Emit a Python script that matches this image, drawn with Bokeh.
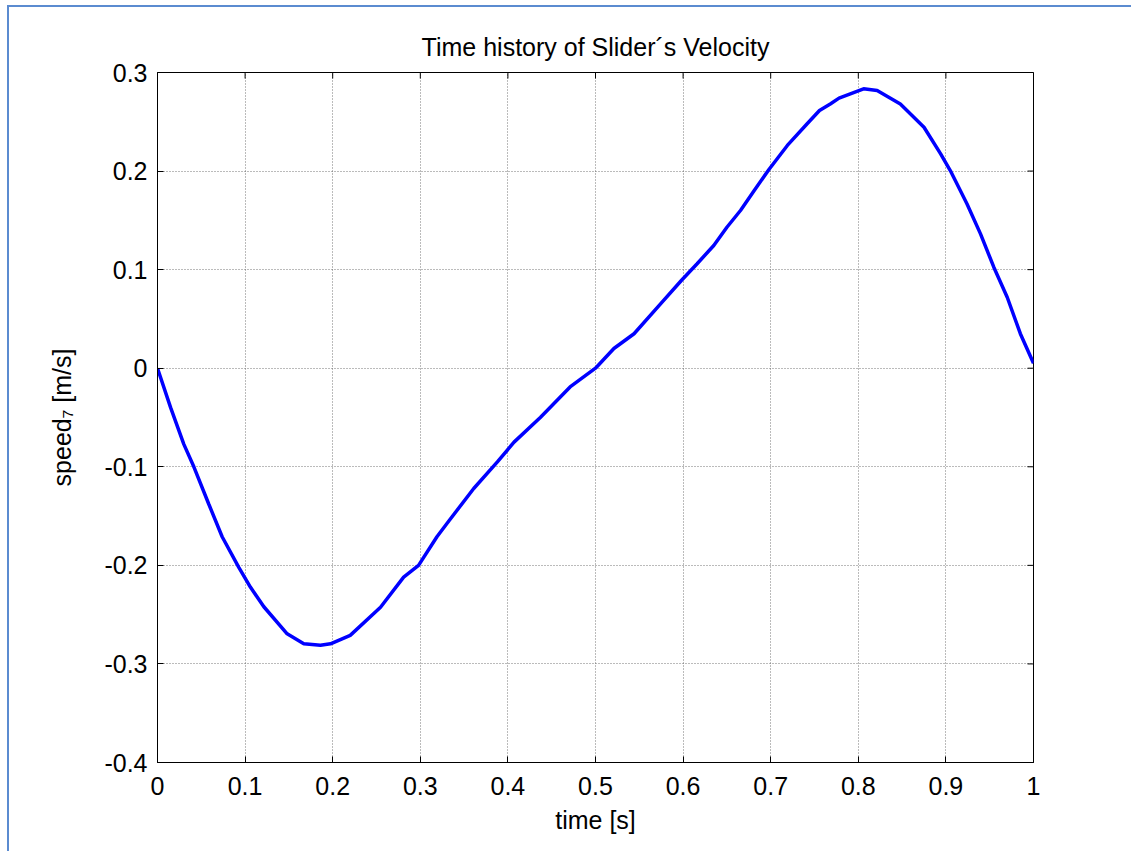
import math
from bokeh.plotting import figure
from bokeh.models import LinearAxis, FixedTicker, Range1d
from bokeh.embed import file_html
from bokeh.resources import INLINE

# ---- data ----
time_s = [0.0, 0.015, 0.030, 0.0415, 0.0586, 0.0738, 0.0928, 0.106, 0.1214, 0.148,
          0.167, 0.186, 0.1975, 0.220, 0.2546, 0.281, 0.298, 0.319, 0.333, 0.361,
          0.388, 0.407, 0.437, 0.471, 0.500, 0.521, 0.544, 0.574, 0.598, 0.616,
          0.635, 0.650, 0.6655, 0.681, 0.698, 0.719, 0.7416, 0.7557, 0.768, 0.778,
          0.806, 0.8215, 0.848, 0.875, 0.894, 0.905, 0.924, 0.9395, 0.9547, 0.970,
          0.985, 1.0]
speed7 = [0.0, -0.040, -0.077, -0.100, -0.138, -0.171, -0.202, -0.222, -0.242, -0.2695,
          -0.2796, -0.281, -0.2796, -0.271, -0.2425, -0.212, -0.200, -0.171, -0.1545, -0.122,
          -0.095, -0.075, -0.050, -0.019, 0.000, 0.020, 0.035, 0.065, 0.089, 0.106,
          0.1245, 0.143, 0.160, 0.180, 0.2016, 0.226, 0.248, 0.2614, 0.268, 0.274,
          0.2835, 0.2817, 0.268, 0.2445, 0.2175, 0.2005, 0.1668, 0.1363, 0.1025, 0.072,
          0.035, 0.005]

x_ticks = [0, 0.1, 0.2, 0.3, 0.4, 0.5, 0.6, 0.7, 0.8, 0.9, 1]
x_tick_labels = ["0", "0.1", "0.2", "0.3", "0.4", "0.5", "0.6", "0.7", "0.8", "0.9", "1"]
y_ticks = [-0.4, -0.3, -0.2, -0.1, 0, 0.1, 0.2, 0.3]
y_tick_labels = ["-0.4", "-0.3", "-0.2", "-0.1", "0", "0.1", "0.2", "0.3"]

title_text = "Time history of Slider\u00b4s Velocity"
x_label = "time [s]"
y_label = "speed\u2087 [m/s]"

X_MIN, X_MAX = 0, 1
Y_MIN, Y_MAX = -0.4, 0.3

FONT = "Liberation Sans"
FS = "25px"

p = figure(width=1124, height=846, output_backend="svg", toolbar_location=None,
           x_range=Range1d(X_MIN, X_MAX), y_range=Range1d(Y_MIN, Y_MAX),
           min_border_left=148, min_border_right=100, min_border_top=65,
           min_border_bottom=91, x_axis_location=None, y_axis_location=None)

p.styles = {"margin-left": "7px", "margin-top": "5px",
            "border-left": "2px solid #5B8BD0", "border-top": "2px solid #5B8BD0"}

p.background_fill_color = "white"
p.border_fill_color = "white"
p.outline_line_color = "black"
p.outline_line_width = 1

p.title.text = title_text
p.title.align = "center"
p.title.text_font = FONT
p.title.text_font_size = FS
p.title.text_font_style = "normal"
p.title.text_color = "black"
p.title.standoff = 24

xticker = FixedTicker(ticks=x_ticks)
yticker = FixedTicker(ticks=y_ticks)


def style_axis(ax):
    ax.axis_line_color = "black"
    ax.major_tick_line_color = "black"
    ax.major_tick_in = 6
    ax.major_tick_out = 0
    ax.minor_tick_line_color = None
    ax.major_label_text_font = FONT
    ax.major_label_text_font_size = FS
    ax.major_label_text_color = "black"
    ax.axis_label_text_font = FONT
    ax.axis_label_text_font_size = FS
    ax.axis_label_text_font_style = "normal"
    ax.axis_label_text_color = "black"


xb = LinearAxis(ticker=xticker, axis_label=x_label,
                major_label_overrides=dict(zip(x_ticks, x_tick_labels)))
style_axis(xb)
xb.major_label_standoff = 14
xb.axis_label_standoff = 8
p.add_layout(xb, "below")

yl = LinearAxis(ticker=yticker, axis_label=y_label,
                major_label_overrides=dict(zip(y_ticks, y_tick_labels)))
style_axis(yl)
yl.major_label_standoff = 10
yl.axis_label_standoff = 25
p.add_layout(yl, "left")

# inward tick marks on the top and right edges of the box (clipped to the frame)
p.scatter(x_ticks, [Y_MAX] * len(x_ticks), marker="dash", size=12, angle=math.pi / 2,
          line_color="black", line_width=1)
p.scatter([X_MAX] * len(y_ticks), y_ticks, marker="dash", size=12,
          line_color="black", line_width=1)

p.xgrid.ticker = xticker
p.ygrid.ticker = yticker
for g in (p.xgrid, p.ygrid):
    g.grid_line_color = "#555555"
    g.grid_line_dash = "1 2"
    g.grid_line_alpha = 0.8
    g.grid_line_width = 1

p.line(time_s, speed7, line_color="#0000FF", line_width=3.5)

open("out.html", "w").write(file_html(p, INLINE))
